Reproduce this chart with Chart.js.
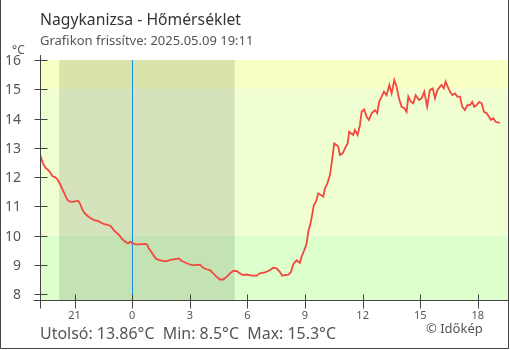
<!DOCTYPE html>
<html>
<head>
<meta charset="utf-8">
<script src="https://cdn.jsdelivr.net/npm/chart.js@4"></script>
<style>
  html, body { margin: 0; padding: 0; background: #fff; }
  canvas { display: block; }
</style>
</head>
<body>
<canvas id="chart" width="510" height="350"></canvas>
<script>
// Idő (óra, éjfélhez képest; negatív = előző nap) és hőmérséklet (°C)
const hours = [
  -4.84, -4.76, -4.64, -4.53, -4.41, -4.29, -4.15, -4.01, -3.89, -3.77,
  -3.63, -3.49, -3.36, -3.24, -3.10, -2.93, -2.81, -2.72, -2.62, -2.50,
  -2.32, -2.15, -1.98, -1.80, -1.63, -1.46, -1.28, -1.11, -0.99, -0.89,
  -0.71, -0.54, -0.36, -0.22, -0.10, -0.02, 0.16, 0.33, 0.68, 0.77,
  0.85, 0.99, 1.11, 1.23, 1.38, 1.64, 1.81, 1.98, 2.24, 2.42,
  2.59, 2.76, 2.94, 3.07, 3.27, 3.53, 3.70, 3.88, 4.05, 4.22,
  4.40, 4.57, 4.74, 4.92, 5.09, 5.26, 5.44, 5.61, 5.78, 5.96,
  6.22, 6.48, 6.65, 6.91, 7.17, 7.34, 7.52, 7.69, 7.81, 7.95,
  8.13, 8.27, 8.39, 8.56, 8.73, 8.82, 8.96, 9.08, 9.17, 9.29,
  9.40, 9.46, 9.57, 9.69, 9.86, 9.95, 10.04, 10.16, 10.30, 10.42,
  10.52, 10.65, 10.73, 10.82, 10.96, 11.08, 11.22, 11.30, 11.51, 11.60,
  11.74, 11.86, 11.95, 12.08, 12.21, 12.33, 12.47, 12.64, 12.76, 12.86,
  12.99, 13.11, 13.25, 13.39, 13.51, 13.65, 13.77, 13.89, 14.03, 14.17,
  14.29, 14.38, 14.52, 14.64, 14.76, 14.93, 15.07, 15.21, 15.36, 15.50,
  15.65, 15.77, 15.89, 16.03, 16.11, 16.23, 16.32, 16.43, 16.55, 16.67,
  16.81, 16.93, 17.07, 17.19, 17.33, 17.45, 17.59, 17.71, 17.81, 17.94,
  18.07, 18.20, 18.32, 18.46, 18.58, 18.68, 18.80, 18.93, 19.06, 19.15
];
const temps = [
  12.86, 12.69, 12.47, 12.33, 12.26, 12.18, 12.03, 11.99, 11.92, 11.78,
  11.58, 11.38, 11.21, 11.16, 11.15, 11.18, 11.18, 11.10, 10.93, 10.78,
  10.67, 10.59, 10.53, 10.50, 10.45, 10.39, 10.37, 10.32, 10.21, 10.14,
  10.04, 9.90, 9.79, 9.73, 9.79, 9.75, 9.71, 9.70, 9.72, 9.70,
  9.58, 9.45, 9.33, 9.22, 9.17, 9.13, 9.13, 9.17, 9.20, 9.22,
  9.13, 9.08, 9.03, 9.00, 8.99, 9.01, 8.90, 8.85, 8.82, 8.71,
  8.59, 8.50, 8.50, 8.59, 8.71, 8.79, 8.79, 8.71, 8.65, 8.67,
  8.63, 8.63, 8.71, 8.74, 8.82, 8.90, 8.88, 8.76, 8.63, 8.65,
  8.67, 8.76, 9.02, 9.16, 9.07, 9.28, 9.50, 9.72, 10.13, 10.42,
  10.81, 11.04, 11.16, 11.44, 11.38, 11.33, 11.61, 11.78, 12.07, 12.64,
  13.15, 13.09, 13.04, 12.75, 12.81, 12.98, 13.15, 13.55, 13.44, 13.61,
  13.44, 13.78, 14.23, 14.31, 14.06, 13.95, 14.18, 14.29, 14.18, 14.57,
  14.75, 14.92, 14.80, 15.15, 14.86, 15.32, 15.09, 14.69, 14.40, 14.35,
  14.23, 14.75, 14.57, 14.52, 14.80, 14.63, 14.69, 14.92, 14.40, 14.97,
  15.03, 14.69, 14.97, 15.09, 15.15, 15.03, 15.26, 15.09, 14.92, 14.80,
  14.86, 14.75, 14.75, 14.40, 14.29, 14.46, 14.46, 14.57, 14.40, 14.46,
  14.57, 14.52, 14.23, 14.18, 14.06, 13.95, 14.01, 13.89, 13.86, 13.86
];

// Tengelyek
const yTicks = [8, 9, 10, 11, 12, 13, 14, 15, 16];
const xTickHours = [-3, 0, 3, 6, 9, 12, 15, 18];
const xTickLabels = ["21", "0", "3", "6", "9", "12", "15", "18"];

// Háttér sávok (°C) és az éjszaka (óra)
const bandEdges = [16, 15, 10, 7.8];
const bandColors = ["#f7ffc2", "#efffd2", "#dcffcc"];
const night = [-3.8, 5.34];

const txtColor = "#555";
const axisColor = "#444";

const backgroundPlugin = {
  id: "hatter",
  beforeDatasetsDraw: (chart) => {
    const { ctx, chartArea } = chart;
    const x = chart.scales.x;
    const y = chart.scales.y;
    ctx.save();
    for (let i = 0; i < bandColors.length; i++) {
      const top = y.getPixelForValue(bandEdges[i]);
      const bottom = y.getPixelForValue(bandEdges[i + 1]);
      ctx.fillStyle = bandColors[i];
      ctx.fillRect(chartArea.left, top, chartArea.right - chartArea.left, bottom - top);
    }
    // éjszaka
    const n0 = x.getPixelForValue(night[0]);
    const n1 = x.getPixelForValue(night[1]);
    ctx.fillStyle = "rgba(0,0,0,0.11)";
    ctx.fillRect(n0, chartArea.top, n1 - n0, chartArea.bottom - chartArea.top);
    // éjfél
    const m = Math.round(x.getPixelForValue(0)) + 0.5;
    ctx.strokeStyle = "#1a8fe8";
    ctx.lineWidth = 1;
    ctx.beginPath();
    ctx.moveTo(m, chartArea.top);
    ctx.lineTo(m, chartArea.bottom);
    ctx.stroke();
    ctx.restore();
  },
};

const axesPlugin = {
  id: "tengelyek",
  afterDraw: (chart) => {
    const { ctx, chartArea } = chart;
    const x = chart.scales.x;
    const y = chart.scales.y;
    ctx.save();
    ctx.strokeStyle = axisColor;
    ctx.lineWidth = 1;
    const ax = Math.round(chartArea.left) + 0.5;
    const ay = Math.round(chartArea.bottom) + 0.5;
    ctx.beginPath();
    ctx.moveTo(ax, chartArea.top - 5);
    ctx.lineTo(ax, ay + 8);
    ctx.moveTo(ax - 7, ay);
    ctx.lineTo(chartArea.right, ay);
    yTicks.forEach((v) => {
      const py = Math.round(y.getPixelForValue(v)) + 0.5;
      ctx.moveTo(ax - 6, py);
      ctx.lineTo(ax + 7, py);
    });
    xTickHours.forEach((h) => {
      const px = Math.round(x.getPixelForValue(h)) + 0.5;
      ctx.moveTo(px, ay - 6);
      ctx.lineTo(px, ay + 8);
    });
    ctx.stroke();

    // tick feliratok
    ctx.fillStyle = txtColor;
    ctx.font = "14px 'Noto Sans'";
    ctx.textAlign = "right";
    ctx.textBaseline = "middle";
    yTicks.forEach((v) => {
      ctx.fillText(String(v), 21, y.getPixelForValue(v) + 1);
    });
    ctx.font = "11px 'Noto Sans'";
    ctx.textAlign = "center";
    xTickHours.forEach((h, i) => {
      ctx.fillText(xTickLabels[i], x.getPixelForValue(h), 316);
    });
    ctx.font = "12px 'Noto Sans'";
    ctx.textAlign = "left";
    ctx.fillText("°C", 12, 51);

    // címek
    ctx.textBaseline = "alphabetic";
    ctx.fillStyle = "#333";
    ctx.font = "16px 'Noto Sans'";
    ctx.fillText("Nagykanizsa - Hőmérséklet", 40, 25, 201);
    ctx.fillStyle = txtColor;
    ctx.font = "13px 'Noto Sans'";
    ctx.fillText("Grafikon frissítve: 2025.05.09 19:11", 40, 45);

    // alsó sor
    ctx.font = "16px 'Noto Sans'";
    ctx.fillText("Utolsó: 13.86°C  Min: 8.5°C  Max: 15.3°C", 40, 339, 296);
    ctx.font = "13px 'Noto Sans'";
    ctx.fillText("© Időkép", 426, 333);

    // keret
    ctx.strokeStyle = axisColor;
    ctx.beginPath();
    ctx.moveTo(0.5, 0);
    ctx.lineTo(0.5, 348.5);
    ctx.lineTo(508.5, 348.5);
    ctx.lineTo(508.5, 0);
    ctx.stroke();
    ctx.restore();
  },
};

const points = hours.map((h, i) => ({ x: h, y: temps[i] }));

new Chart(document.getElementById("chart"), {
  type: "line",
  data: {
    datasets: [
      {
        data: points,
        borderColor: "#f4473f",
        borderWidth: 1.8,
        pointRadius: 0,
        tension: 0,
        fill: false,
      },
    ],
  },
  options: {
    responsive: false,
    animation: false,
    devicePixelRatio: 1,
    layout: { padding: { left: 40, top: 60, right: 2, bottom: 50 } },
    plugins: { legend: { display: false }, tooltip: { enabled: false } },
    scales: {
      x: { type: "linear", min: -4.8, max: 19.57, display: false },
      y: { type: "linear", min: 7.8, max: 16, display: false },
    },
  },
  plugins: [backgroundPlugin, axesPlugin],
});
</script>
</body>
</html>
